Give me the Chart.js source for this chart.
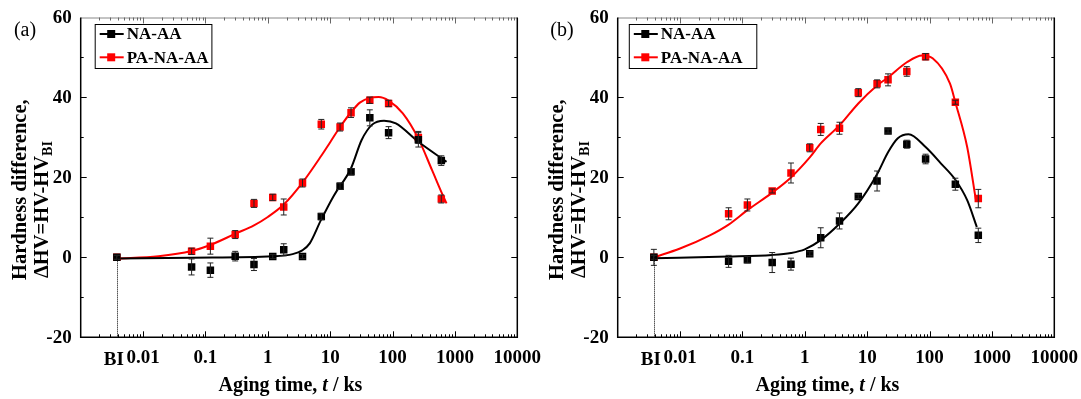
<!DOCTYPE html>
<html lang="en">
<head>
<meta charset="UTF-8">
<title>Hardness difference vs aging time</title>
<script src="https://cdn.jsdelivr.net/npm/chart.js"></script>
<style>
  body { margin: 0; background: #fff; }
  #wrap { position: relative; width: 1081px; height: 399px; overflow: hidden; }
  canvas { position: absolute; top: 0; }
  #chartB { left: 537px; }
  #chartA { left: 0; }
</style>
</head>
<body>
<div id="wrap">
  <canvas id="chartB" width="544" height="399"></canvas>
  <canvas id="chartA" width="545" height="399"></canvas>
</div>
<script>
// aging times (ks); BI = before aging
const BI = 0.0038;
const times = [BI, 0.06, 0.12, 0.3, 0.6, 1.2, 1.8, 3.6, 7.2, 14.4, 21.6, 43.2, 86.4, 259.2, 604.8];
const xTickValues = [BI, 0.01, 0.1, 1, 10, 100, 1000, 10000];
const xTickLabels = ['BI', '0.01', '0.1', '1', '10', '100', '1000', '10000'];
const yTickValues = [-20, 0, 20, 40, 60];

// panel (a)
const naA = [0, -2.4, -3.2, 0.3, -1.8, 0.2, 1.9, 0.2, 10.2, 17.8, 21.4, 34.9, 31.2, 29.4, 24.2];
const naAErr = [0.5, 2, 1.8, 1.2, 1.5, 0.5, 1.5, 0.5, 0.8, 0.8, 0.8, 2, 1.5, 1.8, 1.2];
const paA = [0, 1.5, 2.8, 5.7, 13.5, 15.0, 12.6, 18.6, 33.3, 32.6, 36.2, 39.3, 38.5, 30.0, 14.6];
const paAErr = [0.5, 0.8, 2, 1, 1, 0.8, 2, 1, 1.2, 1, 1.2, 0.8, 0.8, 1.5, 1];
const naAFitX = [BI, 0.06, 1.2, 2.5, 3.57, 4.7, 7.1, 11.5, 21.6, 31.8, 47, 73, 113, 259, 733];
const naAFitY = [-0.3, -0.1, 0.25, 0.8, 1.75, 3.5, 9.3, 15.5, 22.3, 29.3, 33.2, 34.2, 33.5, 28.9, 23.9];
const paAFitX = [BI, 0.0177, 0.06, 0.12, 0.3, 0.6, 1, 1.8, 3.6, 7.2, 10, 14.4, 21.6, 29.9, 43.2, 60, 86.4, 146, 259, 430, 607, 733];
const paAFitY = [-0.3, 0.3, 1.6, 3.1, 5.9, 8, 10.1, 13.2, 18.7, 25.4, 28.8, 32.6, 36.3, 38.7, 39.9, 40.1, 39.2, 36.0, 29.7, 21.8, 16.3, 13.5];

// panel (b)
const naB = [0, -1, -0.6, -1.3, -1.7, 0.9, 4.9, 9.1, 15.2, 19.1, 31.6, 28.3, 24.6, 18.3, 5.5];
const naBErr = [2, 1.5, 0.8, 2.5, 1.5, 0.5, 2.5, 2, 0.5, 2.5, 0.5, 1, 1.2, 1.5, 1.8];
const paB = [0, 10.9, 13.1, 16.6, 21.1, 27.4, 32.0, 32.3, 41.2, 43.4, 44.4, 46.5, 50.2, 38.8, 14.7];
const paBErr = [0.5, 1.5, 1.5, 0.5, 2.5, 1, 1.5, 1.5, 1, 1, 1.5, 1.2, 0.8, 0.5, 2.3];
const naBFitX = [BI, 0.06, 0.3, 0.6, 1, 1.8, 3.6, 7.2, 14.4, 21.6, 31, 46, 86.4, 154, 259, 401, 572];
const naBFitY = [-0.2, 0.2, 0.6, 1.1, 2.0, 4.3, 8.4, 13.5, 20.8, 26.3, 29.8, 30.8, 27.6, 23.4, 19.4, 14.3, 7.6];
const paBFitX = [BI, 0.01, 0.03, 0.06, 0.12, 0.3, 0.6, 1.2, 1.8, 3.6, 7.2, 14.4, 21.6, 43.2, 76, 112, 212, 259, 401, 551];
const paBFitY = [0, 2.2, 5.5, 8.2, 11.8, 16.2, 20, 25, 28.5, 33, 38.5, 43, 45, 48.8, 50.5, 49.8, 43.5, 38.8, 27.6, 14.5];

const SERIF = '"Liberation Serif", "Times New Roman", serif';
const PLOT_LEFT = 80.7, PLOT_RIGHT = 517.3, PLOT_TOP = 17.5, PLOT_BOTTOM = 337.3;

function pts(xs, ys) {
    return xs.map((x, i) => ({ x: x, y: ys[i] }));
}

const decor = {
    id: 'decor',
    afterDatasetsDraw(chart, args, opts) {
        const ctx = chart.ctx;
        const y = chart.scales.y;
        // error bars
        [[0, opts.naErr], [1, opts.paErr]].forEach(([di, errs]) => {
            const meta = chart.getDatasetMeta(di);
            const ds = chart.data.datasets[di].data;
            ctx.save();
            ctx.strokeStyle = '#222';
            ctx.lineWidth = 1;
            meta.data.forEach((el, i) => {
                const top = y.getPixelForValue(ds[i].y + errs[i]);
                const bot = y.getPixelForValue(ds[i].y - errs[i]);
                ctx.beginPath();
                ctx.moveTo(el.x, top); ctx.lineTo(el.x, bot);
                ctx.moveTo(el.x - 3, top); ctx.lineTo(el.x + 3, top);
                ctx.moveTo(el.x - 3, bot); ctx.lineTo(el.x + 3, bot);
                ctx.stroke();
            });
            ctx.restore();
        });
    },
    afterDraw(chart, args, opts) {
        const ctx = chart.ctx;
        const x = chart.scales.x, y = chart.scales.y;
        const a = chart.chartArea;
        ctx.save();

        // dotted line under the BI point
        ctx.strokeStyle = '#000';
        ctx.lineWidth = 1;
        ctx.setLineDash([1, 1]);
        ctx.beginPath();
        ctx.moveTo(Math.round(x.getPixelForValue(BI)) + 0.5, y.getPixelForValue(0));
        ctx.lineTo(Math.round(x.getPixelForValue(BI)) + 0.5, a.bottom);
        ctx.stroke();
        ctx.setLineDash([]);

        // frame
        ctx.strokeStyle = '#888';
        ctx.beginPath();
        ctx.moveTo(a.left, a.top + 0.5); ctx.lineTo(a.right, a.top + 0.5);
        ctx.stroke();
        ctx.strokeStyle = '#000';
        ctx.lineWidth = 1.5;
        ctx.beginPath();
        ctx.moveTo(a.left, a.top); ctx.lineTo(a.left, a.bottom); ctx.lineTo(a.right, a.bottom); ctx.lineTo(a.right, a.top);
        ctx.stroke();

        // x ticks (log, inward)
        ctx.lineWidth = 1;
        for (let e = -3; e < 4; e++) {
            for (let m = 1; m < 10; m++) {
                const v = m * Math.pow(10, e);
                if (v <= x.min || v >= x.max) continue;
                const px = Math.round(x.getPixelForValue(v)) + 0.5;
                const len = m === 1 ? 6 : 3;
                ctx.strokeStyle = '#000';
                ctx.beginPath();
                ctx.moveTo(px, a.bottom); ctx.lineTo(px, a.bottom - len);
                ctx.stroke();
                ctx.strokeStyle = '#666';
                ctx.beginPath();
                ctx.moveTo(px, a.top); ctx.lineTo(px, a.top + len);
                ctx.stroke();
            }
        }
        // y ticks every 10, inward on both sides
        ctx.strokeStyle = '#000';
        for (let v = -10; v < 60; v += 10) {
            const py = Math.round(y.getPixelForValue(v)) + 0.5;
            const len = v % 20 === 0 ? 6 : 3;
            ctx.beginPath();
            ctx.moveTo(a.left, py); ctx.lineTo(a.left + len, py);
            ctx.moveTo(a.right, py); ctx.lineTo(a.right - len, py);
            ctx.stroke();
        }

        ctx.fillStyle = '#000';
        // y tick labels
        ctx.font = 'bold 19px ' + SERIF;
        ctx.textAlign = 'right';
        ctx.textBaseline = 'middle';
        yTickValues.forEach(v => ctx.fillText(String(v), a.left - 9, y.getPixelForValue(v) + 1));
        // x tick labels
        ctx.textAlign = 'center';
        ctx.textBaseline = 'alphabetic';
        xTickValues.forEach((v, i) => {
            const px = x.getPixelForValue(v);
            if (i === 0) ctx.fillText(xTickLabels[i], px - 3, 365);
            else ctx.fillText(xTickLabels[i], px, 363);
        });

        // x title with italic t
        const parts = [['Aging time, ', 'bold'], ['t', 'italic bold'], [' / ks', 'bold']];
        let total = 0;
        parts.forEach(p => { ctx.font = p[1] + ' 20px ' + SERIF; total += ctx.measureText(p[0]).width; });
        let cx = 290.4 - total / 2;
        ctx.textAlign = 'left';
        parts.forEach(p => {
            ctx.font = p[1] + ' 20px ' + SERIF;
            ctx.fillText(p[0], cx, 391);
            cx += ctx.measureText(p[0]).width;
        });

        // y title, two rotated lines
        ctx.save();
        ctx.translate(20.5, 280);
        ctx.rotate(-Math.PI / 2);
        ctx.font = 'bold 20.5px ' + SERIF;
        ctx.textBaseline = 'middle';
        ctx.fillText('Hardness difference,', 0, 0);
        ctx.restore();
        ctx.save();
        ctx.translate(43, 278);
        ctx.rotate(-Math.PI / 2);
        ctx.font = 'bold 20.5px ' + SERIF;
        ctx.textBaseline = 'middle';
        ctx.fillText('\u0394HV=HV-HV', 0, 0);
        const w = ctx.measureText('\u0394HV=HV-HV').width;
        ctx.font = 'bold 14px ' + SERIF;
        ctx.fillText('BI', w, 5);
        ctx.restore();

        // panel label
        ctx.font = '20px ' + SERIF;
        ctx.textAlign = 'center';
        ctx.textBaseline = 'middle';
        ctx.fillText(opts.label, 25, 30.5);

        // legend
        const lx = opts.legendX, lw = opts.legendW;
        ctx.strokeStyle = '#000';
        ctx.lineWidth = 1;
        ctx.strokeRect(lx + 0.5, 24.5, lw, 44);
        ctx.font = 'bold 17px ' + SERIF;
        ctx.textAlign = 'left';
        [[34, '#000', 'NA-AA'], [57.3, '#ff0000', 'PA-NA-AA']].forEach(([ly, col, txt]) => {
            ctx.strokeStyle = col;
            ctx.fillStyle = col;
            ctx.lineWidth = 2;
            ctx.beginPath();
            ctx.moveTo(lx + 5, ly); ctx.lineTo(lx + 29, ly);
            ctx.stroke();
            ctx.fillRect(lx + 12.5, ly - 4, 8, 8);
            ctx.fillStyle = '#000';
            ctx.fillText(txt, lx + 32, ly + 1);
        });
        ctx.restore();
    }
};

function makePanel(id, canvasWidth, cfg) {
    const padRight = canvasWidth - PLOT_RIGHT;
    return new Chart(document.getElementById(id), {
        type: 'scatter',
        data: {
            datasets: [
                { label: 'NA-AA', data: pts(times, cfg.na), backgroundColor: '#000', borderWidth: 0,
                  pointStyle: 'rect', pointRadius: 5.3, order: 1 },
                { label: 'PA-NA-AA', data: pts(times, cfg.pa), backgroundColor: '#ff0000', borderWidth: 0,
                  pointStyle: 'rect', pointRadius: 5.3, order: 1 },
                { label: 'NA-AA fit', data: pts(cfg.naFitX, cfg.naFitY), showLine: true, borderColor: '#000',
                  borderWidth: 2, pointRadius: 0, cubicInterpolationMode: 'monotone', order: 2 },
                { label: 'PA-NA-AA fit', data: pts(cfg.paFitX, cfg.paFitY), showLine: true, borderColor: '#ff0000',
                  borderWidth: 2, pointRadius: 0, cubicInterpolationMode: 'monotone', order: 2 }
            ]
        },
        options: {
            responsive: false,
            animation: false,
            devicePixelRatio: 1,
            layout: { padding: { left: 0, right: padRight, top: PLOT_TOP, bottom: 0 } },
            scales: {
                x: {
                    type: 'logarithmic', min: 0.001, max: 10000,
                    ticks: { display: false }, grid: { display: false }, border: { display: false },
                    afterFit: s => { s.height = 399 - PLOT_BOTTOM; }
                },
                y: {
                    type: 'linear', min: -20, max: 60,
                    ticks: { display: false }, grid: { display: false }, border: { display: false },
                    afterFit: s => { s.width = PLOT_LEFT; }
                }
            },
            plugins: {
                legend: { display: false },
                tooltip: { enabled: false },
                decor: {
                    label: cfg.label, legendX: cfg.legendX, legendW: cfg.legendW,
                    naErr: cfg.naErr, paErr: cfg.paErr
                }
            }
        },
        plugins: [decor]
    });
}

makePanel('chartA', 545, {
    label: '(a)', na: naA, pa: paA, naErr: naAErr, paErr: paAErr,
    naFitX: naAFitX, naFitY: naAFitY, paFitX: paAFitX, paFitY: paAFitY,
    legendX: 94.7, legendW: 116.7
});
makePanel('chartB', 544, {
    label: '(b)', na: naB, pa: paB, naErr: naBErr, paErr: paBErr,
    naFitX: naBFitX, naFitY: naBFitY, paFitX: paBFitX, paFitY: paBFitY,
    legendX: 91.8, legendW: 127.5
});
</script>
</body>
</html>
